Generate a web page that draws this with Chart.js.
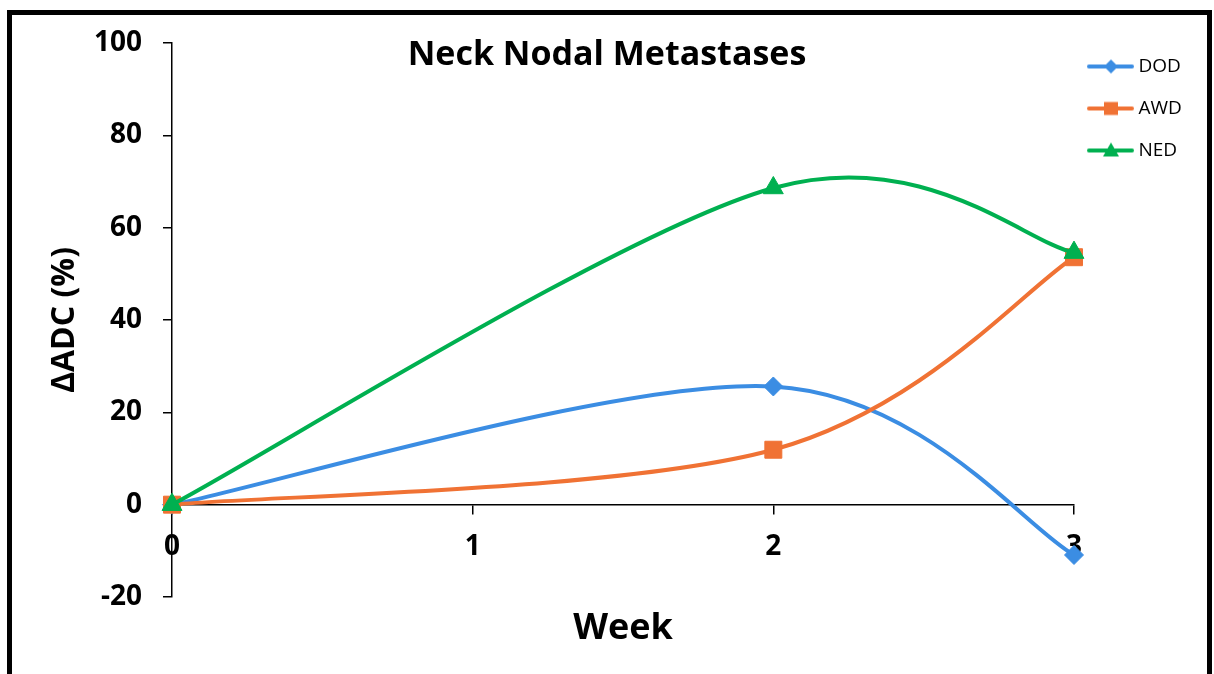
<!DOCTYPE html>
<html>
<head>
<meta charset="utf-8">
<script src="https://cdn.jsdelivr.net/npm/chart.js@4.4.1/dist/chart.umd.min.js"></script>
<style>
  html, body { margin: 0; padding: 0; background: #fff; overflow: hidden; }
  #frame { position: absolute; left: 7px; top: 10px; width: 1195px; height: 700px; border: 5px solid #000; }
  #c { position: absolute; left: 0; top: 0; }
</style>
</head>
<body>
<div id="frame"></div>
<canvas id="c" width="1214" height="674"></canvas>
<script>
const weeks = [0, 2, 3];
const dod = [0, 25.6, -10.9];
const awd = [0, 11.9, 53.6];
const ned = [0, 68.6, 54.6];
const seriesNames = ['DOD', 'AWD', 'NED'];
const seriesColors = ['#3B8DE3', '#F07234', '#00B050'];
const markerStyles = ['rectRot', 'rect', 'triangle'];
const markerSizes = [9.5, 12, 11.5];

Chart.defaults.font.family = "'Open Sans', sans-serif";
Chart.defaults.color = '#000';

function toPoints(vals) {
    return weeks.map((w, i) => ({ x: w, y: vals[i] }));
}

// line + marker sample for the legend
function legendIcon(i) {
    const cv = document.createElement('canvas');
    cv.width = 54;
    cv.height = 24;
    const g = cv.getContext('2d');
    g.strokeStyle = seriesColors[i];
    g.fillStyle = seriesColors[i];
    g.lineWidth = 4;
    g.lineCap = 'round';
    g.beginPath();
    g.moveTo(3, 12);
    g.lineTo(46, 12);
    g.stroke();
    const cx = 25, cy = 12;
    g.beginPath();
    if (i === 0) {
        g.moveTo(cx, cy - 7); g.lineTo(cx + 7, cy); g.lineTo(cx, cy + 7); g.lineTo(cx - 7, cy);
    } else if (i === 1) {
        g.rect(cx - 7, cy - 6.5, 14, 13);
    } else {
        g.moveTo(cx, cy - 8); g.lineTo(cx + 8, cy + 6); g.lineTo(cx - 8, cy + 6);
    }
    g.closePath();
    g.fill();
    return cv;
}

// Excel style smoothing (catmull-rom, 1/6 of neighbour span)
const excelSmooth = {
    id: 'excelSmooth',
    beforeDatasetDraw(chart, args) {
        const meta = args.meta;
        meta.dataset.updateControlPoints(chart.chartArea, 'x');
        const pts = meta.data;
        for (let i = 0; i < pts.length; i++) {
            const a = pts[Math.max(i - 1, 0)];
            const b = pts[Math.min(i + 1, pts.length - 1)];
            const dx = (b.x - a.x) / 6, dy = (b.y - a.y) / 6;
            pts[i].cp1x = pts[i].x - dx;
            pts[i].cp1y = pts[i].y - dy;
            pts[i].cp2x = pts[i].x + dx;
            pts[i].cp2y = pts[i].y + dy;
        }
    }
};

const chartTitle = {
    id: 'chartTitle',
    afterDraw(chart) {
        const c = chart.ctx;
        c.save();
        c.font = "bold 34px 'Open Sans', sans-serif";
        c.fillStyle = '#000';
        c.textAlign = 'center';
        c.textBaseline = 'alphabetic';
        c.fillText('Neck Nodal Metastases', 607, 65);
        c.restore();
    }
};

const tickFont = { size: 28, weight: 'bold' };

const chart = new Chart(document.getElementById('c').getContext('2d'), {
    type: 'line',
    data: {
        datasets: seriesNames.map((name, i) => ({
            label: name,
            data: toPoints([dod, awd, ned][i]),
            borderColor: seriesColors[i],
            backgroundColor: seriesColors[i],
            borderWidth: 4,
            tension: 0.4,
            pointStyle: markerStyles[i],
            pointRadius: markerSizes[i],
            pointBorderWidth: 1,
            order: 2 - i,
            clip: false
        }))
    },
    options: {
        responsive: false,
        animation: false,
        layout: { padding: { left: 0, right: 28, top: 34, bottom: 10 } },
        plugins: {
            legend: {
                position: 'right',
                align: 'start',
                maxWidth: 112,
                labels: {
                    usePointStyle: true,
                    pointStyleWidth: 32,
                    padding: 23,
                    color: '#000',
                    font: { size: 19 },
                    generateLabels: (ch) => ch.data.datasets.map((ds, i) => ({
                        text: ds.label,
                        pointStyle: legendIcon(i),
                        fillStyle: ds.borderColor,
                        strokeStyle: ds.borderColor,
                        lineWidth: 0,
                        hidden: false,
                        datasetIndex: i,
                        fontColor: '#000'
                    }))
                }
            },
            title: {
                display: true,
                position: 'bottom',
                fullSize: false,
                text: 'Week',
                color: '#000',
                font: { size: 36, weight: 'bold' },
                padding: { top: 10.5, bottom: 13.3 }
            },
            tooltip: { enabled: false }
        },
        scales: {
            x: {
                type: 'linear',
                position: { y: 0 },
                min: 0,
                max: 3,
                ticks: { stepSize: 1, font: tickFont, color: '#000', padding: 17 },
                grid: { drawOnChartArea: false, tickLength: 9, color: '#000', lineWidth: 1.5 },
                border: { color: '#000', width: 1.5 },
                afterFit: (s) => { s.height = 0; }
            },
            y: {
                min: -20,
                max: 100,
                ticks: { stepSize: 20, font: tickFont, color: '#000', padding: 21 },
                grid: { drawOnChartArea: false, tickLength: 9, color: '#000', lineWidth: 1.5 },
                border: { color: '#000', width: 1.5 },
                title: {
                    display: true,
                    text: 'ΔADC (%)',
                    color: '#000',
                    font: { size: 32, weight: 'bold' },
                    padding: { top: 46, bottom: 0 }
                },
                afterFit: (s) => { s.width = 172; s.paddingTop = 43; }
            }
        }
    },
    plugins: [excelSmooth, chartTitle]
});
</script>
</body>
</html>
